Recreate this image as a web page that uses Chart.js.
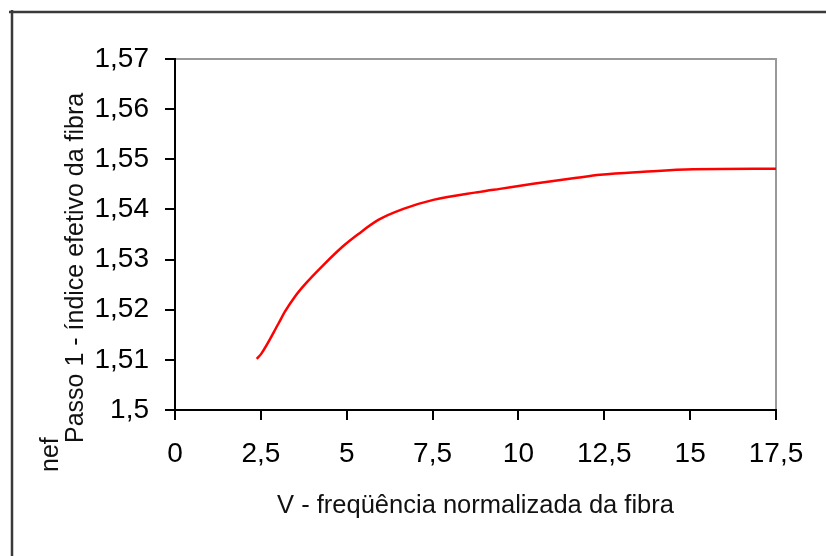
<!DOCTYPE html>
<html>
<head>
<meta charset="utf-8">
<script src="https://cdn.jsdelivr.net/npm/chart.js@4/dist/chart.umd.min.js"></script>
<style>
  html, body { margin: 0; padding: 0; background: #fff; }
  canvas { display: block; }
</style>
</head>
<body>
<canvas id="c" width="826" height="556"></canvas>
<script>
// ---- data ----
const vValues = [2.38, 2.52, 3.01, 3.20, 3.49, 3.79, 4.32, 4.90, 5.34, 5.92, 6.65, 7.52, 8.88, 9.46, 10.43, 11.70, 12.38, 13.64, 15.09, 17.5];
const nefValues = [1.5102, 1.5113, 1.5172, 1.5196, 1.5226, 1.5251, 1.5289, 1.5327, 1.5351, 1.5379, 1.5401, 1.5419, 1.5435, 1.5441, 1.5451, 1.5463, 1.5469, 1.5475, 1.5480, 1.5481];
const xTickLabels = ['0', '2,5', '5', '7,5', '10', '12,5', '15', '17,5'];
const yTickLabels = ['1,5', '1,51', '1,52', '1,53', '1,54', '1,55', '1,56', '1,57'];
const xTitle = 'V - freqüência normalizada da fibra';
const yTitle1 = 'nef';
const yTitle2 = 'Passo 1 - índice efetivo da fibra';

const FONT = '"Liberation Sans", Arial, sans-serif';

const decor = {
  id: 'decor',
  beforeDraw(chart) {
    const ctx = chart.ctx;
    ctx.save();
    ctx.fillStyle = '#fff';
    ctx.fillRect(0, 0, chart.width, chart.height);
    // outer frame (top and left edges)
    ctx.strokeStyle = '#3a3a3a';
    ctx.lineWidth = 2.5;
    ctx.beginPath();
    ctx.moveTo(9, 12);
    ctx.lineTo(chart.width, 12);
    ctx.moveTo(12, 10);
    ctx.lineTo(12, chart.height);
    ctx.stroke();
    // plot area gray top / right borders
    const a = chart.chartArea;
    ctx.strokeStyle = '#999';
    ctx.lineWidth = 2;
    ctx.beginPath();
    ctx.moveTo(a.left, a.top);
    ctx.lineTo(a.right, a.top);
    ctx.lineTo(a.right, a.bottom);
    ctx.stroke();
    ctx.restore();
  },
  afterDraw(chart) {
    const ctx = chart.ctx;
    const a = chart.chartArea;
    ctx.save();
    ctx.fillStyle = '#111';
    ctx.textBaseline = 'alphabetic';
    ctx.font = '25.5px ' + FONT;
    ctx.textAlign = 'center';
    ctx.fillText(xTitle, (a.left + a.right) / 2, 513);
    ctx.font = '25px ' + FONT;
    ctx.textAlign = 'left';
    ctx.save();
    ctx.translate(58, 472);
    ctx.rotate(-Math.PI / 2);
    ctx.fillText(yTitle1, 0, 0);
    ctx.restore();
    ctx.save();
    ctx.translate(83, 443);
    ctx.rotate(-Math.PI / 2);
    ctx.fillText(yTitle2, 0, 0);
    ctx.restore();
    ctx.restore();
  }
};

const points = vValues.map((v, i) => ({ x: v, y: nefValues[i] }));

new Chart(document.getElementById('c'), {
  type: 'scatter',
  data: {
    datasets: [{
      data: points,
      showLine: true,
      borderColor: '#ff0000',
      borderWidth: 2.5,
      pointRadius: 0,
      cubicInterpolationMode: 'monotone',
      fill: false
    }]
  },
  options: {
    responsive: false,
    animation: false,
    devicePixelRatio: 1,
    layout: { padding: { left: 0, right: 50, top: 59, bottom: 0 } },
    plugins: { legend: { display: false }, tooltip: { enabled: false } },
    scales: {
      x: {
        type: 'linear',
        min: 0, max: 17.5,
        ticks: {
          stepSize: 2.5,
          color: '#000',
          font: { family: FONT, size: 28 },
          padding: 17,
          maxRotation: 0,
          autoSkip: false,
          callback: (v, i) => xTickLabels[i]
        },
        grid: { drawOnChartArea: false, tickLength: 10, color: '#000', lineWidth: 2 },
        border: { color: '#000', width: 2 },
        afterFit: s => { s.height = 146; }
      },
      y: {
        type: 'linear',
        min: 1.5, max: 1.57,
        ticks: {
          stepSize: 0.01,
          color: '#000',
          font: { family: FONT, size: 28 },
          padding: 16,
          autoSkip: false,
          callback: (v, i) => yTickLabels[i]
        },
        grid: { drawOnChartArea: false, tickLength: 10, color: '#000', lineWidth: 2 },
        border: { color: '#000', width: 2 },
        afterFit: s => { s.width = 175; }
      }
    }
  },
  plugins: [decor]
});
</script>
</body>
</html>
